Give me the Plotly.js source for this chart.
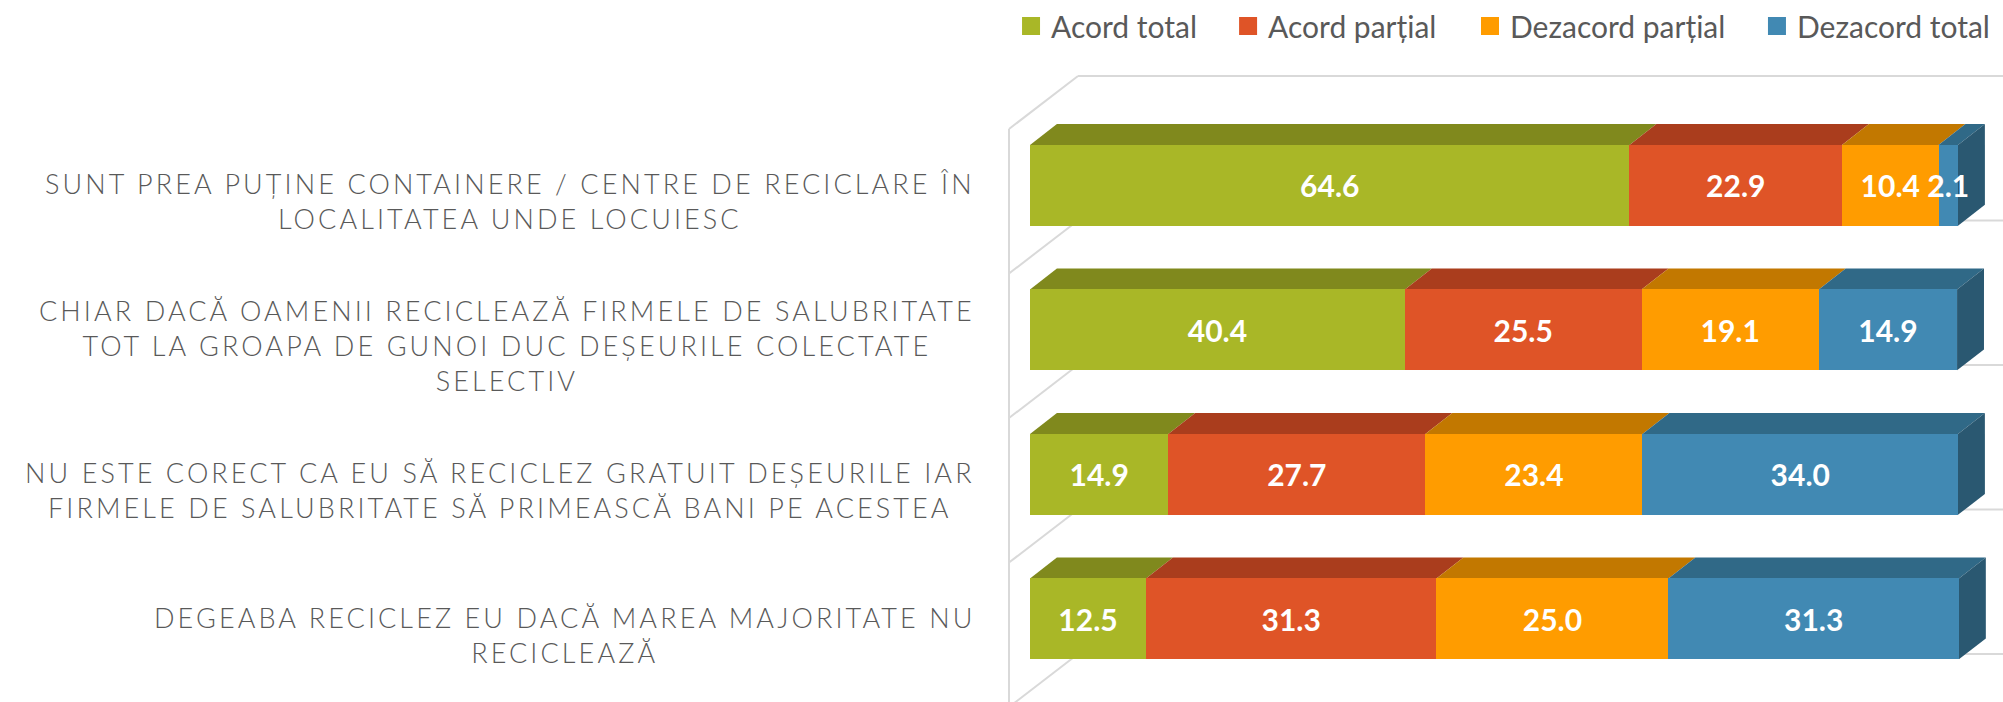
<!DOCTYPE html>
<html>
<head>
<meta charset="utf-8">
<script src="https://cdn.plot.ly/plotly-3.0.1.min.js"></script>
<style>
  html, body { margin: 0; padding: 0; background: #ffffff; }
  #chart { width: 2003px; height: 702px; }
  .annotation-text { letter-spacing: 3.1px; }
</style>
</head>
<body>
<div id="chart"></div>
<script>
// ---- data ----
const categories = [
  "SUNT PREA PUȚINE CONTAINERE / CENTRE DE RECICLARE ÎN<br>LOCALITATEA UNDE LOCUIESC",
  "CHIAR DACĂ OAMENII RECICLEAZĂ FIRMELE DE SALUBRITATE<br>TOT LA GROAPA DE GUNOI DUC DEȘEURILE COLECTATE<br>SELECTIV",
  "NU ESTE CORECT CA EU SĂ RECICLEZ GRATUIT DEȘEURILE IAR<br>FIRMELE DE SALUBRITATE SĂ PRIMEASCĂ BANI PE ACESTEA",
  "DEGEABA RECICLEZ EU DACĂ MAREA MAJORITATE NU<br>RECICLEAZĂ"
];
const seriesNames = ["Acord total", "Acord parțial", "Dezacord parțial", "Dezacord total"];
const acordTotal      = [64.6, 40.4, 14.9, 12.5];
const acordPartial    = [22.9, 25.5, 27.7, 31.3];
const dezacordPartial = [10.4, 19.1, 23.4, 25.0];
const dezacordTotal   = [2.1, 14.9, 34.0, 31.3];

// ---- style ----
const frontColors = ["#A9B727", "#DF5427", "#FF9C00", "#4189B3"];
const topColors   = ["#80891D", "#AA3D1D", "#C27800", "#306987"];
const sideColor   = "#2A5871";
const wallColor   = "#D9D9D9";
const legendX     = [0.0110, 0.2274, 0.4686, 0.7547];   // legend block positions (paper)

const series = [acordTotal, acordPartial, dezacordPartial, dezacordTotal];

// 3D geometry in axis units
const barW = 0.56;
const frontOff = -0.11;
const bdx = 2.9, bdy = -0.145;
const wdx = 7.435, wdy = -0.367;
const wallX = -2.263;
const xMax = 104.85, xMin = -3.233;
const yMax = 3.465, yMin = -0.9775;

const idx = categories.map((_, i) => i);
const yPos = idx.map(i => i + frontOff);
const legendIds = ["legend", "legend2", "legend3", "legend4"];

const traces = series.map((vals, j) => ({
  type: "bar",
  orientation: "h",
  name: seriesNames[j],
  legend: legendIds[j],
  x: vals,
  y: yPos,
  width: barW,
  marker: { color: frontColors[j], line: { width: 0 } },
  texttemplate: "%{x:.1f}",
  textposition: "inside",
  insidetextanchor: "middle",
  constraintext: "none",
  textangle: 0,
  cliponaxis: false,
  textfont: { family: "Lato, sans-serif", size: 30, color: "#ffffff", weight: "bold" },
  hoverinfo: "name+x"
}));

// ---- shapes: walls/grid, then bar tops and sides ----
const shapes = [];
const line = { color: wallColor, width: 2 };
shapes.push({ type: "line", xref: "x", yref: "y", x0: wallX, x1: wallX, y0: -0.5, y1: yMax, line, layer: "below" });
for (let k = 0; k <= categories.length; k++) {
  const yb = -0.5 + k;
  shapes.push({ type: "line", xref: "x", yref: "y", x0: wallX, y0: yb, x1: wallX + wdx, y1: yb + wdy, line, layer: "below" });
  shapes.push({ type: "line", xref: "x", yref: "y", x0: wallX + wdx, y0: yb + wdy, x1: xMax, y1: yb + wdy, line, layer: "below" });
}
function poly(pts) {
  return "M" + pts.map(p => p[0] + "," + p[1]).join("L") + "Z";
}
idx.forEach(i => {
  const yT = yPos[i] - barW / 2;
  const yB = yPos[i] + barW / 2;
  let s = 0;
  series.forEach((vals, j) => {
    const e = s + vals[i];
    shapes.push({ type: "path", xref: "x", yref: "y", layer: "below",
      path: poly([[s, yT], [e, yT], [e + bdx, yT + bdy], [s + bdx, yT + bdy]]),
      fillcolor: topColors[j], line: { width: 0 } });
    s = e;
  });
  shapes.push({ type: "path", xref: "x", yref: "y", layer: "below",
    path: poly([[s, yT], [s + bdx, yT + bdy], [s + bdx, yB + bdy], [s, yB]]),
    fillcolor: sideColor, line: { width: 0 } });
});

// ---- category labels ----
const annotations = categories.map((c, i) => ({
  xref: "paper", yref: "y", x: -0.023, y: i,
  xanchor: "right", yanchor: "middle", align: "center",
  text: c, showarrow: false,
  font: { family: "Lato, sans-serif", size: 27, color: "#595959", weight: 300 }
}));

const layout = {
  width: 2003, height: 702,
  margin: { l: 1000, r: 0, t: 60, b: 0, pad: 0 },
  paper_bgcolor: "#ffffff", plot_bgcolor: "#ffffff",
  barmode: "stack",
  xaxis: { range: [xMin, xMax], visible: false, fixedrange: true },
  yaxis: { range: [yMax, yMin], visible: false, fixedrange: true },
  showlegend: true,
  shapes, annotations
};
legendIds.forEach((id, j) => {
  layout[id] = {
    orientation: "h", xref: "paper", yref: "paper",
    x: legendX[j], xanchor: "left", y: 1.053, yanchor: "middle",
    font: { family: "Lato, sans-serif", size: 30, color: "#595959" },
    bgcolor: "rgba(0,0,0,0)", borderwidth: 0
  };
});

Plotly.newPlot("chart", traces, layout, { displayModeBar: false, staticPlot: true }).then(gd => {
  // enlarge legend swatches to match the reference's larger squares
  gd.querySelectorAll(".legendpoints path").forEach(p => {
    const t = p.getAttribute("transform") || "";
    p.setAttribute("transform", t + " scale(1.5)");
  });
});
</script>
</body>
</html>
